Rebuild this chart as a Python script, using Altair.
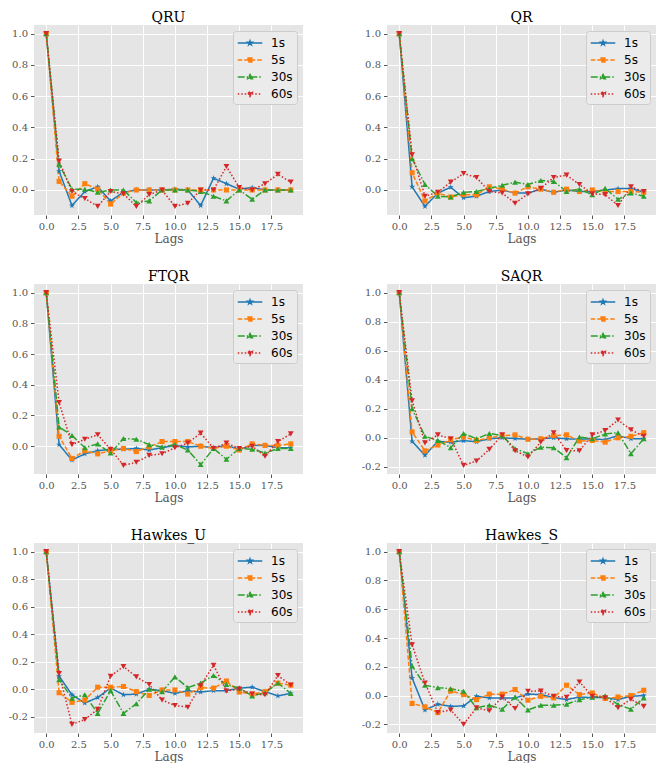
import altair as alt
import pandas as pd

lags = list(range(20))
series_names = ["1s", "5s", "30s", "60s"]
colors = ["#1f77b4", "#ff7f0e", "#2ca02c", "#d62728"]
dashes = [[1, 0], [4.5, 2], [7, 2, 1.5, 2], [1.5, 2]]

# ---- QRU ----
qru_1s = [1.0, 0.12, -0.10, -0.01, 0.02, -0.07, -0.015, 0.0, 0.0, 0.0, 0.005, 0.0, -0.10, 0.075, 0.04, 0.005, 0.015, 0.0, 0.0, 0.0]
qru_5s = [1.0, 0.055, -0.04, 0.04, 0.005, -0.09, -0.02, 0.0, 0.0, 0.0, 0.0, 0.0, 0.0, 0.0, 0.0, 0.0, 0.0, 0.0, 0.0, 0.0]
qru_30s = [1.0, 0.165, 0.005, 0.005, -0.015, 0.0, 0.0, -0.08, -0.07, 0.0, 0.0, 0.0, -0.01, -0.04, -0.07, 0.0, -0.06, 0.0, 0.0, 0.0]
qru_60s = [1.0, 0.185, -0.01, -0.055, -0.105, -0.01, -0.025, -0.105, -0.03, 0.0, -0.105, -0.085, 0.0, 0.0, 0.15, 0.015, 0.0, 0.04, 0.10, 0.05]

# ---- QR ----
qr_1s = [1.0, 0.02, -0.105, -0.02, 0.017, -0.05, -0.04, -0.01, 0.0, -0.02, -0.02, 0.005, -0.015, 0.0, -0.01, -0.01, 0.0, 0.008, 0.01, -0.015]
qr_5s = [1.0, 0.11, -0.07, -0.02, -0.045, -0.03, -0.03, 0.02, 0.005, -0.02, 0.02, 0.005, -0.015, 0.005, -0.01, 0.0, -0.01, -0.01, -0.01, -0.015]
qr_30s = [1.0, 0.20, 0.035, -0.04, -0.045, -0.015, -0.01, 0.01, 0.03, 0.05, 0.035, 0.06, 0.055, -0.01, 0.005, -0.03, 0.01, -0.06, -0.02, -0.04]
qr_60s = [1.0, 0.225, -0.04, -0.015, 0.05, 0.105, 0.08, -0.01, -0.02, -0.085, -0.025, 0.01, 0.08, 0.095, 0.035, -0.025, -0.03, -0.10, 0.02, -0.01]

# ---- FTQR ----
ftqr_1s = [1.0, 0.01, -0.09, -0.05, -0.03, -0.02, -0.02, -0.015, -0.025, -0.01, 0.005, -0.005, 0.0, -0.01, 0.005, -0.02, 0.005, 0.005, -0.01, -0.01]
ftqr_5s = [1.0, 0.065, -0.08, -0.03, -0.05, -0.03, -0.015, -0.035, -0.005, 0.03, 0.03, 0.03, 0.0, -0.015, 0.0, -0.025, 0.015, 0.005, 0.005, 0.015]
ftqr_30s = [1.0, 0.125, 0.07, -0.01, 0.015, -0.045, 0.05, 0.045, 0.01, -0.005, 0.01, -0.025, -0.12, -0.015, -0.085, -0.015, -0.02, -0.045, -0.015, -0.015]
ftqr_60s = [1.0, 0.285, 0.01, 0.045, 0.075, -0.02, -0.125, -0.105, -0.06, -0.05, -0.01, 0.02, 0.085, -0.015, 0.02, -0.015, 0.0, -0.065, 0.03, 0.08]

# ---- SAQR ----
saqr_1s = [1.0, -0.025, -0.12, -0.025, -0.03, -0.02, -0.027, -0.007, 0.0, -0.005, -0.01, -0.007, 0.0, -0.007, -0.01, -0.007, -0.013, 0.015, -0.007, -0.007]
saqr_5s = [1.0, 0.04, -0.09, -0.05, -0.013, 0.005, -0.018, 0.0, 0.015, 0.02, -0.01, -0.007, 0.015, 0.02, -0.022, -0.018, -0.03, 0.0, 0.01, 0.035]
saqr_30s = [1.0, 0.20, 0.01, -0.018, -0.068, 0.03, -0.007, 0.03, 0.015, -0.075, -0.11, -0.065, -0.068, -0.137, 0.005, -0.007, 0.027, 0.035, -0.11, -0.007]
saqr_60s = [1.0, 0.255, -0.035, 0.02, -0.007, -0.19, -0.16, -0.08, 0.02, -0.09, -0.132, -0.03, 0.035, -0.087, -0.09, 0.02, 0.05, 0.122, 0.055, 0.01]

# ---- Hawkes_U ----
hu_1s = [1.0, 0.095, -0.04, -0.10, -0.06, 0.01, -0.04, -0.035, 0.0, -0.01, -0.03, -0.012, -0.02, -0.01, -0.01, 0.008, 0.015, -0.017, -0.048, -0.03]
hu_5s = [1.0, -0.025, -0.095, -0.078, 0.015, 0.015, 0.02, -0.017, -0.045, -0.005, -0.005, -0.035, 0.012, 0.008, 0.06, -0.02, -0.035, -0.017, 0.045, 0.03]
hu_30s = [1.0, 0.07, -0.065, -0.04, -0.175, -0.01, -0.175, -0.105, 0.0, -0.017, 0.09, 0.012, 0.045, 0.10, 0.035, 0.008, -0.048, -0.025, 0.045, -0.03]
hu_60s = [1.0, 0.115, -0.255, -0.22, -0.145, 0.095, 0.165, 0.09, 0.035, -0.078, -0.118, -0.13, 0.025, 0.175, -0.012, 0.002, -0.035, -0.04, 0.10, 0.03]

# ---- Hawkes_S ----
hs_1s = [1.0, 0.122, -0.10, -0.06, -0.075, -0.072, -0.005, -0.016, -0.016, -0.016, 0.01, 0.007, -0.014, -0.028, -0.01, -0.014, -0.014, -0.028, -0.005, 0.0]
hs_5s = [1.0, -0.055, -0.078, -0.118, 0.032, 0.007, -0.028, 0.01, 0.01, 0.042, -0.032, -0.005, -0.016, 0.072, 0.007, 0.018, -0.02, -0.01, 0.0, 0.037]
hs_30s = [1.0, 0.205, 0.072, 0.055, 0.048, 0.03, -0.085, -0.067, -0.095, -0.01, -0.10, -0.067, -0.067, -0.06, -0.028, -0.012, -0.002, -0.062, -0.095, -0.016]
hs_60s = [1.0, 0.353, 0.088, -0.118, -0.10, -0.20, -0.085, -0.106, -0.01, -0.09, 0.03, 0.032, -0.005, -0.012, 0.095, -0.005, -0.016, -0.085, -0.025, -0.075]

panel_titles = ["QRU", "QR", "FTQR", "SAQR", "Hawkes_U", "Hawkes_S"]
panel_series = [
    [qru_1s, qru_5s, qru_30s, qru_60s],
    [qr_1s, qr_5s, qr_30s, qr_60s],
    [ftqr_1s, ftqr_5s, ftqr_30s, ftqr_60s],
    [saqr_1s, saqr_5s, saqr_30s, saqr_60s],
    [hu_1s, hu_5s, hu_30s, hu_60s],
    [hs_1s, hs_5s, hs_30s, hs_60s],
]

x_ticks = [0.0, 2.5, 5.0, 7.5, 10.0, 12.5, 15.0, 17.5]

STAR = "M0,-1L0.2245,-0.309L0.951,-0.309L0.363,0.118L0.588,0.809L0,0.382L-0.588,0.809L-0.363,0.118L-0.951,-0.309L-0.2245,-0.309Z"
marker_shapes = [STAR, "square", "triangle-up", "triangle-down"]
marker_sizes = [40, 26, 34, 34]
LINE = "M-1.75,0L1.75,0"
legend_shapes = [
    LINE + "M0,-0.3L0.067,-0.093L0.285,-0.093L0.109,0.035L0.176,0.243L0,0.115L-0.176,0.243L-0.109,0.035L-0.285,-0.093L-0.067,-0.093Z",
    LINE + "M-0.27,-0.27L0.27,-0.27L0.27,0.27L-0.27,0.27Z",
    LINE + "M0,-0.34L0.34,0.25L-0.34,0.25Z",
    LINE + "M0,0.34L0.34,-0.25L-0.34,-0.25Z",
]

SERIF = "DejaVu Serif"
SANS = "DejaVu Sans"
MINUS_FIX = "replace(datum.label, '\u2212', '-')"


def make_panel(title, series):
    rows = []
    for name, vals in zip(series_names, series):
        for lag, v in zip(lags, vals):
            rows.append({"lag": lag, "acf": v, "series": name})
    df = pd.DataFrame(rows)
    lo = min(min(s) for s in series)
    hi = max(max(s) for s in series)
    pad = 0.05 * (hi - lo)
    ydom = [lo - pad, hi + pad]
    yticks = [round(-0.4 + 0.2 * i, 1) for i in range(8) if ydom[0] <= -0.4 + 0.2 * i + 1e-9 <= ydom[1]]

    x = alt.X("lag:Q", scale=alt.Scale(domain=[-0.95, 19.95], nice=False, zero=False),
              axis=alt.Axis(values=x_ticks, format=".1f", title="Lags"))
    y = alt.Y("acf:Q", scale=alt.Scale(domain=ydom, nice=False, zero=False),
              axis=alt.Axis(values=yticks, format=".1f", title=None, labelExpr=MINUS_FIX))
    color = alt.Color("series:N", scale=alt.Scale(domain=series_names, range=colors), legend=None)

    base = alt.Chart(df)
    layers = []
    for i, name in enumerate(series_names):
        sub = base.transform_filter(alt.datum.series == name)
        layers.append(sub.mark_line(strokeWidth=1.5, strokeDash=dashes[i]).encode(x=x, y=y, color=color))
    for i, name in enumerate(series_names):
        sub = base.transform_filter(alt.datum.series == name)
        layers.append(sub.mark_point(filled=True, opacity=1, shape=marker_shapes[i], size=marker_sizes[i]).encode(
            x=x, y=y, color=color))

    leg = alt.Legend(
        title=None, orient="top-right", offset=6,
        fillColor="#EBEBEB", strokeColor="#CCCCCC", cornerRadius=3, padding=4,
        labelFont=SANS, labelFontSize=12, labelColor="#000000",
        symbolSize=196, symbolStrokeWidth=1.5, symbolOpacity=1, symbolOffset=5,
        labelOffset=13, rowPadding=3,
    )
    leg_layer = base.mark_point(filled=True, strokeWidth=1.5, size=0).encode(
        x=x, y=y,
        fill=alt.Fill("series:N", scale=alt.Scale(domain=series_names, range=colors), legend=leg),
        stroke=alt.Stroke("series:N", scale=alt.Scale(domain=series_names, range=colors), legend=leg),
        shape=alt.Shape("series:N", scale=alt.Scale(domain=series_names, range=legend_shapes), legend=leg),
        strokeDash=alt.StrokeDash("series:N", scale=alt.Scale(domain=series_names, range=dashes), legend=leg),
    )
    sub = alt.layer(*layers).resolve_scale(color="shared")
    ch = alt.layer(sub, leg_layer).resolve_scale(color="independent").properties(
        width=269, height=190,
        title=alt.TitleParams(title, font=SERIF, fontSize=14, fontWeight="normal", color="#000000", offset=0),
    )
    return ch


panels = [make_panel(t, s) for t, s in zip(panel_titles, panel_series)]
res = dict(fill="independent", stroke="independent", shape="independent", strokeDash="independent", color="independent")
chart = alt.concat(*panels, columns=2, bounds="flush", spacing={"row": 69, "column": 84}).resolve_scale(**res).properties(
    padding={"left": 0, "top": 3, "right": 0, "bottom": 0},
    background="#FFFFFF",
).configure_view(
    fill="#E5E5E5", stroke=None
).configure_axis(
    grid=True, gridColor="#FFFFFF", gridWidth=1, gridOpacity=1,
    domain=False, tickColor="#555555", tickSize=3.5, tickWidth=1,
    labelFont=SERIF, labelFontSize=10, labelColor="#555555", labelPadding=3,
    titleFont=SERIF, titleFontSize=12, titleFontWeight="normal", titleColor="#555555", titlePadding=2,
)

chart.save("out.html", embed_options={"renderer": "svg", "actions": False})
